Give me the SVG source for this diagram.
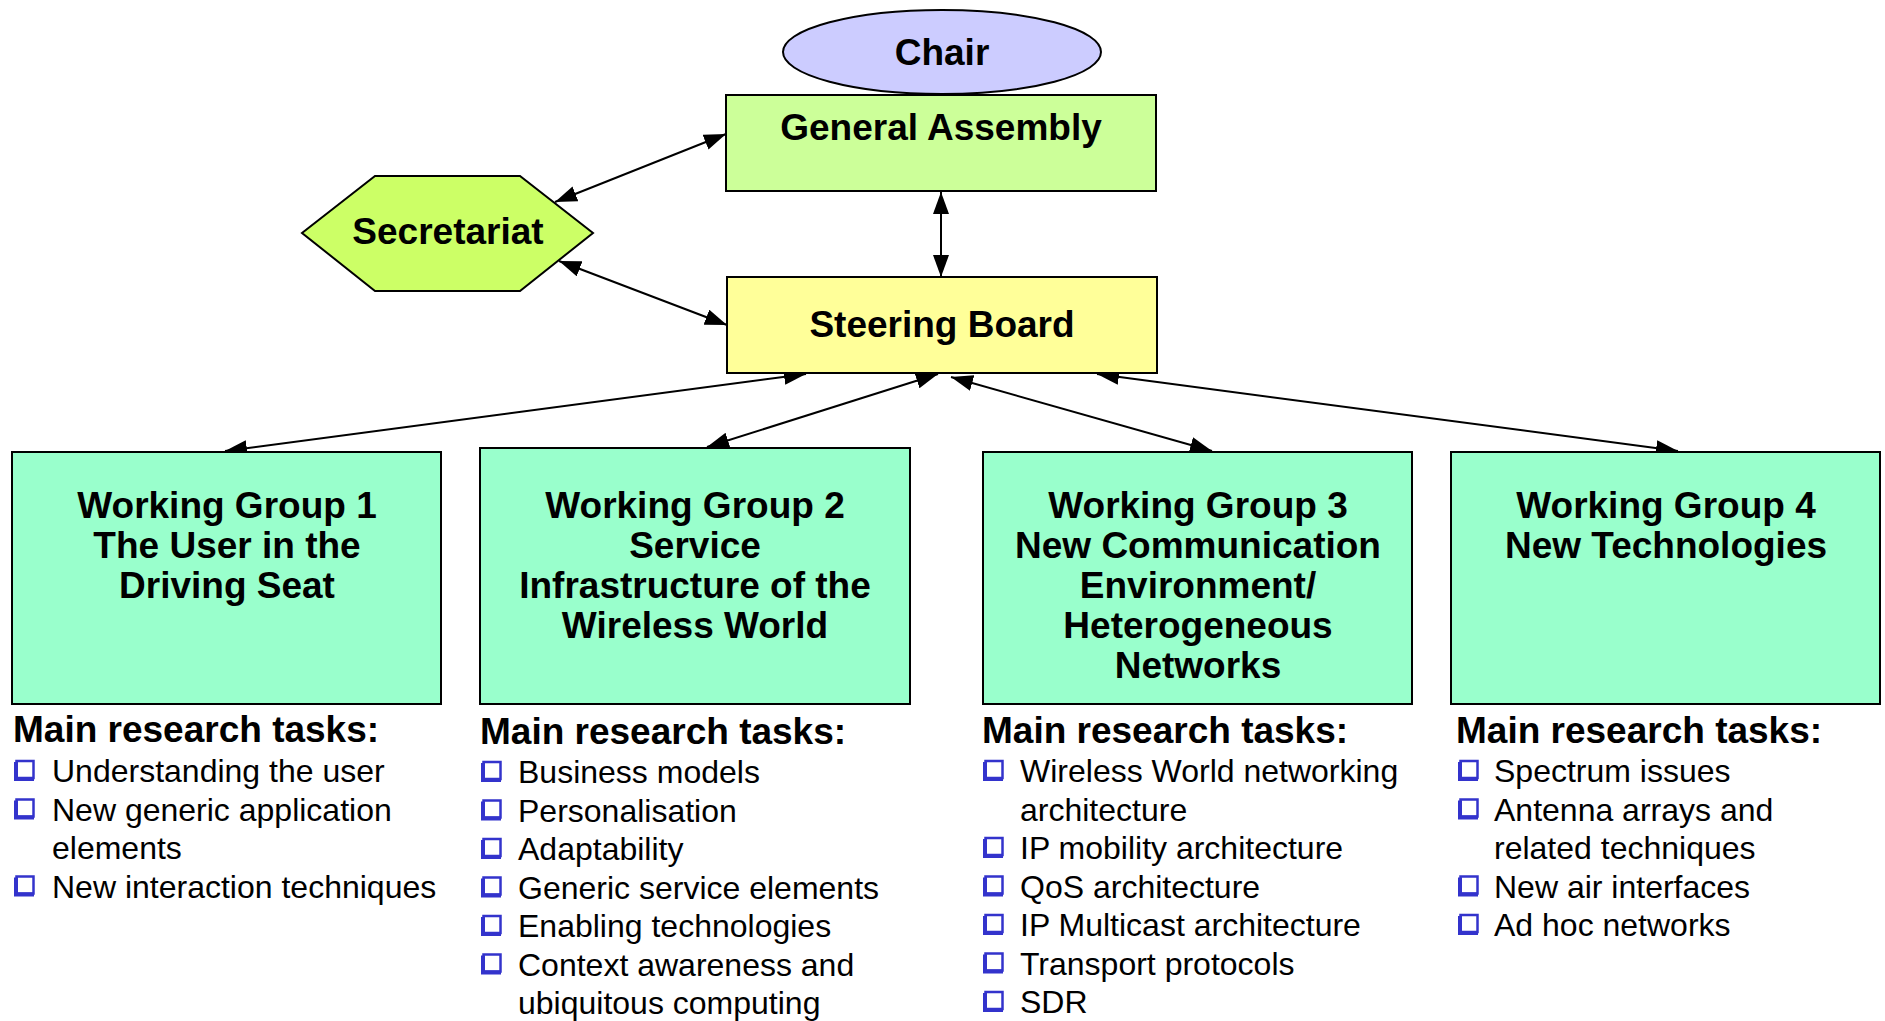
<svg xmlns="http://www.w3.org/2000/svg" width="1885" height="1021" viewBox="0 0 1885 1021">
<style>
  .t { font-family: "Liberation Sans", Arial, sans-serif; font-weight: bold; font-size: 37px; fill: #000; text-anchor: middle; }
  .h { font-family: "Liberation Sans", Arial, sans-serif; font-weight: bold; font-size: 37px; fill: #000; }
  .b { font-family: "Liberation Sans", Arial, sans-serif; font-size: 32px; fill: #000; }
  .box { stroke: #000; stroke-width: 2; }
  .wg { fill: #99FFCC; stroke: #000; stroke-width: 2; }
  .con { stroke: #000; stroke-width: 2; fill: none; marker-start: url(#as); marker-end: url(#ae); }
</style>
<defs>
  <marker id="ae" viewBox="0 0 22 16" refX="22" refY="8" markerWidth="22" markerHeight="16" markerUnits="userSpaceOnUse" orient="auto">
    <path d="M0,0 L22,8 L0,16 z" fill="#000"/>
  </marker>
  <marker id="as" viewBox="0 0 22 16" refX="0" refY="8" markerWidth="22" markerHeight="16" markerUnits="userSpaceOnUse" orient="auto">
    <path d="M22,0 L0,8 L22,16 z" fill="#000"/>
  </marker>
  <g id="bul">
    <rect x="2.5" y="-21" width="17" height="17" fill="none" stroke="#3333CC" stroke-width="2.5"/>
    <path d="M0,-20 L4,-20 L4,-5 L20,-5 L20,-1 L0,-1 z" fill="#3333CC"/>
  </g>
</defs>

<g id="connectors">
  <line class="con" x1="555" y1="202" x2="726" y2="134"/>
  <line class="con" x1="559" y1="261" x2="727" y2="325"/>
  <line class="con" x1="941" y1="192" x2="941" y2="277"/>
  <line class="con" x1="806" y1="374" x2="225" y2="451"/>
  <line class="con" x1="938" y1="374" x2="707" y2="447"/>
  <line class="con" x1="951" y1="377" x2="1212" y2="451"/>
  <line class="con" x1="1097" y1="374" x2="1678" y2="451"/>
</g>

<g id="chair">
  <ellipse cx="942" cy="52" rx="159" ry="42" fill="#CCCCFF" class="box"/>
  <text class="t" x="942" y="65">Chair</text>
</g>

<g id="general-assembly">
  <rect x="726" y="95" width="430" height="96" fill="#CCFF99" class="box"/>
  <text class="t" x="941" y="140">General Assembly</text>
</g>

<g id="secretariat">
  <polygon points="302,233 375,176 520,176 593,233 520,291 375,291" fill="#CCFF66" class="box"/>
  <text class="t" x="448" y="244">Secretariat</text>
</g>

<g id="steering-board">
  <rect x="727" y="277" width="430" height="96" fill="#FFFF99" class="box"/>
  <text class="t" x="942" y="337">Steering Board</text>
</g>

<g id="wg1">
  <rect class="wg" x="12" y="452" width="429" height="252"/>
  <text class="t" x="227" y="518">Working Group 1</text>
  <text class="t" x="227" y="558">The User in the</text>
  <text class="t" x="227" y="598">Driving Seat</text>
  <text class="h" x="13" y="742">Main research tasks:</text>
  <use href="#bul" x="14" y="782"/>
  <text class="b" x="52" y="782">Understanding the user</text>
  <use href="#bul" x="14" y="820.5"/>
  <text class="b" x="52" y="820.5">New generic application</text>
  <text class="b" x="52" y="859">elements</text>
  <use href="#bul" x="14" y="897.5"/>
  <text class="b" x="52" y="897.5">New interaction techniques</text>
</g>

<g id="wg2">
  <rect class="wg" x="480" y="448" width="430" height="256"/>
  <text class="t" x="695" y="518">Working Group 2</text>
  <text class="t" x="695" y="558">Service</text>
  <text class="t" x="695" y="598">Infrastructure of the</text>
  <text class="t" x="695" y="638">Wireless World</text>
  <text class="h" x="480" y="744">Main research tasks:</text>
  <use href="#bul" x="481" y="783"/>
  <text class="b" x="518" y="783">Business models</text>
  <use href="#bul" x="481" y="821.5"/>
  <text class="b" x="518" y="821.5">Personalisation</text>
  <use href="#bul" x="481" y="860"/>
  <text class="b" x="518" y="860">Adaptability</text>
  <use href="#bul" x="481" y="898.5"/>
  <text class="b" x="518" y="898.5">Generic service elements</text>
  <use href="#bul" x="481" y="937"/>
  <text class="b" x="518" y="937">Enabling technologies</text>
  <use href="#bul" x="481" y="975.5"/>
  <text class="b" x="518" y="975.5">Context awareness and</text>
  <text class="b" x="518" y="1014">ubiquitous computing</text>
</g>

<g id="wg3">
  <rect class="wg" x="983" y="452" width="429" height="252"/>
  <text class="t" x="1198" y="518">Working Group 3</text>
  <text class="t" x="1198" y="558">New Communication</text>
  <text class="t" x="1198" y="598">Environment/</text>
  <text class="t" x="1198" y="638">Heterogeneous</text>
  <text class="t" x="1198" y="678">Networks</text>
  <text class="h" x="982" y="743">Main research tasks:</text>
  <use href="#bul" x="983" y="782"/>
  <text class="b" x="1020" y="782">Wireless World networking</text>
  <text class="b" x="1020" y="820.5">architecture</text>
  <use href="#bul" x="983" y="859"/>
  <text class="b" x="1020" y="859">IP mobility architecture</text>
  <use href="#bul" x="983" y="897.5"/>
  <text class="b" x="1020" y="897.5">QoS architecture</text>
  <use href="#bul" x="983" y="936"/>
  <text class="b" x="1020" y="936">IP Multicast architecture</text>
  <use href="#bul" x="983" y="974.5"/>
  <text class="b" x="1020" y="974.5">Transport protocols</text>
  <use href="#bul" x="983" y="1013"/>
  <text class="b" x="1020" y="1013">SDR</text>
</g>

<g id="wg4">
  <rect class="wg" x="1451" y="452" width="429" height="252"/>
  <text class="t" x="1666" y="518">Working Group 4</text>
  <text class="t" x="1666" y="558">New Technologies</text>
  <text class="h" x="1456" y="743">Main research tasks:</text>
  <use href="#bul" x="1458" y="782"/>
  <text class="b" x="1494" y="782">Spectrum issues</text>
  <use href="#bul" x="1458" y="820.5"/>
  <text class="b" x="1494" y="820.5">Antenna arrays and</text>
  <text class="b" x="1494" y="859">related techniques</text>
  <use href="#bul" x="1458" y="897.5"/>
  <text class="b" x="1494" y="897.5">New air interfaces</text>
  <use href="#bul" x="1458" y="936"/>
  <text class="b" x="1494" y="936">Ad hoc networks</text>
</g>
</svg>
